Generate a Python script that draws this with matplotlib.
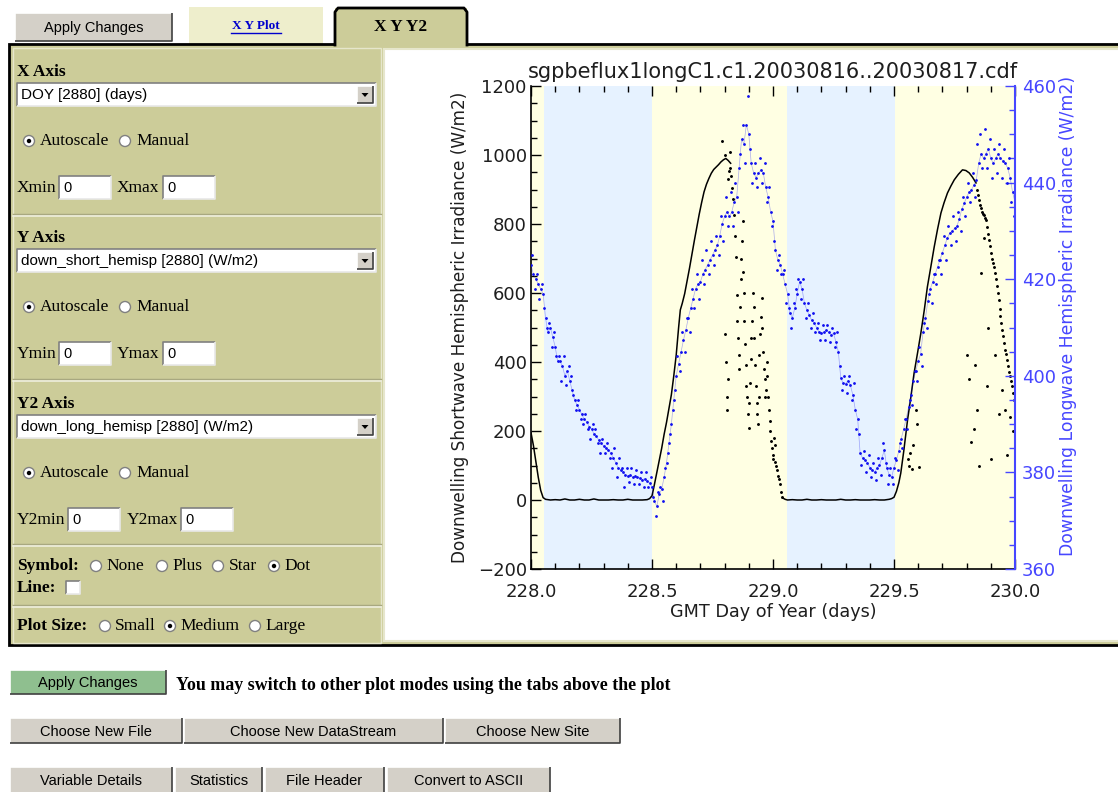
import matplotlib
matplotlib.use("Agg")
import matplotlib.pyplot as plt
from matplotlib.patches import Rectangle, Circle, Polygon
from matplotlib.ticker import MultipleLocator, FormatStrFormatter

# ---------------- data ----------------
title = "sgpbeflux1longC1.c1.20030816..20030817.cdf"
x_label = "GMT Day of Year (days)"
y_label = "Downwelling Shortwave Hemispheric Irradiance (W/m2)"
y2_label = "Downwelling Longwave Hemispheric Irradiance (W/m2)"

# night shading (DOY)
night_start = [228.055, 229.057]
night_end = [228.500, 229.504]

# shortwave, smooth clear-sky trace (W/m2)
sw_line1_doy = [
    228.000, 228.010, 228.020, 228.030, 228.040, 228.050, 228.060, 228.080, 228.100, 228.120,
    228.140, 228.160, 228.180, 228.200, 228.220, 228.240, 228.260, 228.280, 228.300, 228.320,
    228.340, 228.360, 228.380, 228.400, 228.420, 228.440, 228.460, 228.480, 228.490, 228.500,
    228.510, 228.520, 228.530, 228.540, 228.550, 228.560, 228.570, 228.580, 228.590, 228.600,
    228.610, 228.617, 228.625, 228.635, 228.645, 228.655, 228.665, 228.675, 228.685, 228.695,
    228.705, 228.715, 228.725, 228.735, 228.745, 228.755, 228.765, 228.775, 228.785, 228.795,
    228.805, 228.815, 228.825]
sw_line1_val = [
    195, 158, 112, 66, 28, 7, 2, 0, 1, 0,
    3, 0, 0, 2, 0, 0, 3, 0, 0, 0,
    1, 0, 0, 2, 0, 0, 0, 1, 4, 12,
    45, 80, 115, 150, 190, 225, 265, 305, 360, 420,
    500, 551, 570, 598, 635, 672, 712, 752, 790, 828,
    862, 893, 915, 932, 947, 958, 965, 972, 980, 986,
    990, 984, 976]

sw_line2_doy = [
    229.040, 229.050, 229.060, 229.080, 229.100, 229.120, 229.140, 229.160, 229.180, 229.200,
    229.220, 229.240, 229.260, 229.280, 229.300, 229.320, 229.340, 229.360, 229.380, 229.400,
    229.420, 229.440, 229.460, 229.480, 229.490, 229.500, 229.510, 229.520, 229.528, 229.540,
    229.556, 229.570, 229.583, 229.597, 229.611, 229.625, 229.638, 229.652, 229.666, 229.680,
    229.694, 229.707, 229.721, 229.735, 229.749, 229.766, 229.783, 229.797, 229.811, 229.825,
    229.839]
sw_line2_val = [
    6, 2, 0, 1, 0, 0, 2, 0, 0, 1,
    0, 0, 0, 2, 0, 0, 1, 0, 0, 0,
    1, 0, 0, 2, 4, 8, 25, 50, 78, 140,
    232, 300, 368, 425, 484, 550, 618, 675, 733, 785,
    832, 862, 890, 910, 928, 944, 957, 955, 948, 935,
    919]

# shortwave, scattered (cloudy) samples
sw_dots_doy = [
    228.790, 228.800, 228.803, 228.806, 228.808, 228.810, 228.812, 228.815, 228.818, 228.821,
    228.824, 228.828, 228.832, 228.836, 228.840, 228.844, 228.847, 228.850, 228.853, 228.856,
    228.858, 228.861, 228.863, 228.866, 228.869, 228.872, 228.874, 228.877, 228.880, 228.882,
    228.885, 228.888, 228.890, 228.893, 228.896, 228.899, 228.902, 228.905, 228.908, 228.911,
    228.914, 228.917, 228.920, 228.923, 228.926, 228.929, 228.932, 228.935, 228.938, 228.941,
    228.944, 228.947, 228.950, 228.953, 228.956, 228.959, 228.962, 228.965, 228.968, 228.971,
    228.974, 228.977, 228.980, 228.983, 228.986, 228.989, 228.992, 228.995, 228.998, 229.001,
    229.004, 229.007, 229.010, 229.014, 229.018, 229.022, 229.026, 229.030, 229.034, 229.038,
    229.845, 229.849, 229.853, 229.857, 229.860, 229.864, 229.868, 229.872, 229.876, 229.880,
    229.884, 229.888, 229.892, 229.896, 229.900, 229.904, 229.908, 229.912, 229.916, 229.920,
    229.924, 229.928, 229.932, 229.936, 229.940, 229.944, 229.948, 229.952, 229.956, 229.960,
    229.964, 229.968, 229.972, 229.976, 229.980, 229.984, 229.988, 229.992, 229.996, 230.000,
    229.556, 229.562, 229.568, 229.574, 229.580, 229.590, 229.596, 229.604, 229.800, 229.808,
    229.818, 229.830, 229.835, 229.844, 229.852, 229.860, 229.872, 229.884, 229.890, 229.902,
    229.918, 229.932, 229.946, 229.958, 229.968, 229.978, 229.993]
sw_dots_val = [
    1040, 1000, 480, 400, 300, 262, 350, 930, 955, 1010,
    962, 940, 905, 872, 825, 765, 705, 594, 520, 470,
    420, 380, 560, 640, 700, 752, 808, 660, 600, 520,
    452, 390, 330, 300, 250, 210, 280, 340, 410, 470,
    520, 600, 560, 470, 390, 330, 280, 250, 220, 300,
    420, 480, 530, 585, 500, 430, 380, 350, 300, 320,
    400, 360, 300, 262, 230, 200, 172, 150, 120, 130,
    180, 160, 110, 100, 88, 70, 62, 45, 24, 10,
    900, 885, 870, 855, 845, 835, 830, 825, 818, 812,
    790, 772, 755, 735, 716, 700, 688, 675, 658, 640,
    620, 600, 580, 555, 532, 512, 492, 475, 455, 436,
    422, 405, 388, 372, 358, 345, 330, 310, 290, 275,
    120, 100, 135, 90, 160, 260, 220, 95, 420, 350,
    168, 205, 390, 262, 100, 659, 760, 330, 500, 120,
    420, 250, 320, 260, 130, 240, 200]

# longwave, main trace (W/m2)
lw_main_doy = [
    228.00, 228.01, 228.02, 228.03, 228.04, 228.05, 228.06, 228.07, 228.08, 228.09,
    228.10, 228.11, 228.12, 228.13, 228.14, 228.15, 228.16, 228.17, 228.18, 228.19,
    228.20, 228.21, 228.22, 228.23, 228.24, 228.25, 228.26, 228.27, 228.28, 228.29,
    228.30, 228.31, 228.32, 228.33, 228.34, 228.35, 228.36, 228.37, 228.38, 228.39,
    228.40, 228.41, 228.42, 228.43, 228.44, 228.45, 228.46, 228.47, 228.48, 228.49,
    228.50, 228.51, 228.52, 228.53, 228.54, 228.55, 228.56, 228.57, 228.58, 228.59,
    228.60, 228.61, 228.62, 228.63, 228.64, 228.65, 228.66, 228.67, 228.68, 228.69,
    228.70, 228.71, 228.72, 228.73, 228.74, 228.75, 228.76, 228.77, 228.78, 228.79,
    228.80, 228.81, 228.82, 228.83, 228.84, 228.85, 228.86, 228.87, 228.88, 228.89,
    228.90, 228.91, 228.92, 228.93, 228.94, 228.95, 228.96, 228.97, 228.98, 228.99,
    229.00, 229.01, 229.02, 229.03, 229.04, 229.05, 229.06, 229.07, 229.08, 229.09,
    229.10, 229.11, 229.12, 229.13, 229.14, 229.15, 229.16, 229.17, 229.18, 229.19,
    229.20, 229.21, 229.22, 229.23, 229.24, 229.25, 229.26, 229.27, 229.28, 229.29,
    229.30, 229.31, 229.32, 229.33, 229.34, 229.35, 229.36, 229.37, 229.38, 229.39,
    229.40, 229.41, 229.42, 229.43, 229.44, 229.45, 229.46, 229.47, 229.48, 229.49,
    229.50, 229.51, 229.52, 229.53, 229.54, 229.55, 229.56, 229.57, 229.58, 229.59,
    229.60, 229.61, 229.62, 229.63, 229.64, 229.65, 229.66, 229.67, 229.68, 229.69,
    229.70, 229.71, 229.72, 229.73, 229.74, 229.75, 229.76, 229.77, 229.78, 229.79,
    229.80, 229.81, 229.82, 229.83, 229.84, 229.85, 229.86, 229.87, 229.88, 229.89,
    229.90, 229.91, 229.92, 229.93, 229.94, 229.95, 229.96, 229.97, 229.98, 229.99,
    230.00]
lw_main_val = [
    423, 421, 420, 419, 418, 417, 412, 409, 410, 408,
    406, 403, 403, 402, 400, 401, 399, 397, 395, 394,
    393, 392, 391, 390.5, 389.5, 389, 388, 387.5, 386.7, 386,
    385.5, 385, 384.6, 384, 383, 382, 381, 380.5, 380, 379.5,
    379.2, 379.5, 379, 379.2, 379, 378.8, 378.5, 378.7, 378.2, 377.8,
    377, 374, 373, 375.5, 376.5, 379, 382, 386, 390, 395,
    400, 402.5, 405, 407.4, 409.5, 412, 414, 416, 418, 419,
    419.5, 421, 422, 423, 424, 425, 426, 427, 429, 431.5,
    433, 434, 433, 434, 436, 437, 443, 449, 448, 452,
    450, 444, 442, 441, 442, 442.6, 442, 439, 437, 434,
    432, 426, 424, 423, 421, 419, 417, 413, 412, 414,
    417, 419.5, 418, 415, 413.6, 412.5, 411.5, 411, 410, 409,
    408.8, 409, 409.5, 409, 408.5, 408.8, 407, 405, 399.5, 398.5,
    398.4, 399, 398, 396, 393, 391, 384, 383, 382.6, 382,
    381, 380.5, 380, 381, 381.5, 383, 384.6, 381, 379.5, 379,
    381, 382.5, 384.5, 387, 389, 391, 393.5, 396, 399, 401,
    403, 404.5, 409, 412, 415.5, 418, 419.5, 421, 422.6, 424,
    425.5, 427, 428.5, 429.5, 430, 430.5, 431, 432.5, 434.5, 435.7,
    437, 438, 438.5, 439.5, 440.5, 444, 446, 445, 446, 447,
    445, 444, 445, 446, 445, 444.5, 444, 443, 441, 438,
    436]

# longwave, spread of the noisy band (W/m2)
lw_spread_doy = [
    228.005, 228.015, 228.025, 228.035, 228.045, 228.055, 228.065, 228.075, 228.085, 228.095,
    228.105, 228.115, 228.125, 228.135, 228.145, 228.155, 228.165, 228.175, 228.185, 228.195,
    228.205, 228.215, 228.225, 228.235, 228.245, 228.255, 228.265, 228.275, 228.285, 228.295,
    228.305, 228.315, 228.325, 228.335, 228.345, 228.355, 228.365, 228.375, 228.385, 228.395,
    228.405, 228.415, 228.425, 228.435, 228.445, 228.455, 228.465, 228.475, 228.485, 228.495,
    228.505, 228.515, 228.525, 228.535, 228.545, 228.555, 228.565, 228.575, 228.585, 228.595,
    228.605, 228.615, 228.625, 228.635, 228.645, 228.655, 228.665, 228.675, 228.685, 228.695,
    228.705, 228.715, 228.725, 228.735, 228.745, 228.755, 228.765, 228.775, 228.785, 228.795,
    228.805, 228.815, 228.825, 228.835, 228.845, 228.855, 228.865, 228.875, 228.885, 228.895,
    228.905, 228.915, 228.925, 228.935, 228.945, 228.955, 228.965, 228.975, 228.985, 228.995,
    229.005, 229.015, 229.025, 229.035, 229.045, 229.055, 229.065, 229.075, 229.085, 229.095,
    229.105, 229.115, 229.125, 229.135, 229.145, 229.155, 229.165, 229.175, 229.185, 229.195,
    229.205, 229.215, 229.225, 229.235, 229.245, 229.255, 229.265, 229.275, 229.285, 229.295,
    229.305, 229.315, 229.325, 229.335, 229.345, 229.355, 229.365, 229.375, 229.385, 229.395,
    229.405, 229.415, 229.425, 229.435, 229.445, 229.455, 229.465, 229.475, 229.485, 229.495,
    229.505, 229.515, 229.525, 229.535, 229.545, 229.555, 229.565, 229.575, 229.585, 229.595,
    229.605, 229.615, 229.625, 229.635, 229.645, 229.655, 229.665, 229.675, 229.685, 229.695,
    229.705, 229.715, 229.725, 229.735, 229.745, 229.755, 229.765, 229.775, 229.785, 229.795,
    229.805, 229.815, 229.825, 229.835, 229.845, 229.855, 229.865, 229.875, 229.885, 229.895,
    229.905, 229.915, 229.925, 229.935, 229.945, 229.955, 229.965, 229.975, 229.985, 229.995]
lw_spread_val = [
    425, 418, 421, 416, 419, 414, 410, 411, 406, 409,
    404, 404, 399, 404, 398, 402, 400, 396, 393, 395,
    391, 390, 392, 389, 387, 390, 389, 386, 384, 387,
    384, 386, 383, 381, 385, 379, 383, 381, 377, 381,
    378, 381, 377.5, 380.5, 377.5, 380, 377, 380, 377, 379,
    375, 371, 376, 377, 374, 381, 384, 388, 393, 397,
    404, 401, 409, 405, 412, 409, 418, 414, 421, 416,
    424, 419, 426, 421, 428, 423, 429, 425, 433, 428,
    437, 431, 438, 431, 440, 434, 446, 452, 444, 458,
    447, 440, 444, 439, 445, 440, 444, 436, 439, 431,
    428, 422, 425, 421, 422, 415, 414, 410, 415, 418,
    420, 416, 420, 412, 415, 410, 413, 409, 411, 407.5,
    410.5, 407.5, 410.5, 407, 410, 406, 409, 402, 397, 400,
    396.5, 400, 395, 398.5, 389, 388, 381.5, 384.5, 380, 383.5,
    379, 382, 378.5, 383, 379.5, 386, 382, 377.5, 381, 377.5,
    383, 380.5, 386, 385, 391, 389, 395, 394, 401, 399,
    406, 402, 411, 410, 417, 415, 421, 419, 424, 421,
    429, 424, 431, 427, 433, 428, 434, 430, 437, 433,
    440, 436, 442, 437, 448, 450, 443, 451, 443, 449,
    441, 447, 442, 448, 441, 447, 440, 445, 436, 433]

# ---------------- page look ----------------
W, H = 1118, 792
SERIF = "Liberation Serif"
SANS = "Liberation Sans"
OLIVE = "#CCCC99"
GRAY = "#D4D0C8"
GREEN = "#8FBF8F"
AXBLUE = "#4646FF"
DOTBLUE = "#1010F0"
INK = "#1E1E1E"

fig = plt.figure(figsize=(W / 100, H / 100), dpi=100)
ui = fig.add_axes([0, 0, 1, 1], zorder=0)
ui.axis("off")


def bevel(x0, y0, x1, y1, face, raised=True, lw=1.2):
    ui.add_patch(Rectangle((x0, y0), x1 - x0, y1 - y0, facecolor=face, edgecolor="none"))
    hi, lo = ("white", "#404040") if raised else ("#808080", "#E8E8E8")
    ui.plot([x0, x0, x1], [y1, y0, y0], color=hi, lw=lw, solid_capstyle="butt")
    ui.plot([x0, x1, x1], [y1, y1, y0], color=lo, lw=lw, solid_capstyle="butt")


def button(x0, y0, x1, y1, s, face=GRAY):
    bevel(x0, y0, x1, y1, face)
    ui.text((x0 + x1) / 2, (y0 + y1) / 2 + 1, s, ha="center", va="center",
            fontsize=10.5, family=SANS)


def label(x, y, s, bold=False, size=12.5):
    ui.text(x, y, s, ha="left", va="center", family=SERIF, fontsize=size,
            fontweight="bold" if bold else "normal")


def radio(cx, cy, on=False):
    ui.add_patch(Circle((cx, cy), 5.5, facecolor="white", edgecolor="#808080", lw=1))
    if on:
        ui.add_patch(Circle((cx, cy), 2.2, facecolor="black", edgecolor="none"))


def entry(x0, y0, x1, y1, s, size=10.5):
    bevel(x0, y0, x1, y1, "white", raised=False)
    ui.text(x0 + 4, (y0 + y1) / 2 + 1, s, ha="left", va="center", fontsize=size, family=SANS)


def dropdown(y0, s):
    entry(17, y0, 376, y0 + 23, s, size=11)
    bevel(357, y0 + 3, 373, y0 + 20, GRAY)
    ui.add_patch(Polygon([(361.5, y0 + 10), (368.5, y0 + 10), (365, y0 + 14)],
                         closed=True, facecolor="black", edgecolor="none"))


# top row: button and tabs
button(15, 13, 172, 41, "Apply Changes")
ui.add_patch(Rectangle((189, 7), 134, 37, facecolor="#EEEECC", edgecolor="none"))
ui.text(256, 26, "X Y Plot", ha="center", va="center", family=SERIF, fontsize=9.5,
        fontweight="bold", color="#0000CC")
ui.plot([231, 281], [33, 33], color="#0000CC", lw=1)

# main panel
ui.add_patch(Rectangle((9, 44), 1115, 601, facecolor=OLIVE, edgecolor="black", lw=2))
ui.add_patch(Rectangle((335, 8), 132, 38, facecolor=OLIVE, edgecolor="none"))
ui.plot([335, 335, 338, 464, 467, 467], [45, 12, 8, 8, 12, 45], color="black", lw=2)
ui.text(401, 27, "X Y Y2", ha="center", va="center", family=SERIF, fontsize=12.5,
        fontweight="bold")
ui.add_patch(Rectangle((13, 48), 368, 595, facecolor="none", edgecolor="#E6E6CC", lw=1))
ui.add_patch(Rectangle((384, 49), 740, 592, facecolor="white", edgecolor="#E6E6CC", lw=1.5))
for sy in [215, 380, 545, 606]:
    ui.plot([13, 381], [sy - 1, sy - 1], color="#A8A880", lw=1)
    ui.plot([13, 381], [sy + 1, sy + 1], color="#EEEEDD", lw=1.2)

# axis sections
sections = [(72, "X Axis", 83, "DOY [2880] (days)", 141, 188, "Xmin", "Xmax", 59, 111, 117, 163, 215),
            (238, "Y Axis", 249, "down_short_hemisp [2880] (W/m2)", 307, 354, "Ymin", "Ymax",
             59, 111, 117, 163, 215),
            (404, "Y2 Axis", 415, "down_long_hemisp [2880] (W/m2)", 473, 520, "Y2min", "Y2max",
             68, 120, 127, 181, 233)]
for ty, name, dy, dtxt, ry, ey, lo, hi, b0, b1, hx, c0, c1 in sections:
    label(17, ty, name, bold=True)
    dropdown(dy, dtxt)
    radio(29, ry, True)
    label(40, ry, "Autoscale")
    radio(125, ry)
    label(136, ry, "Manual")
    label(17, ey, lo)
    entry(b0, ey - 12, b1, ey + 11, "0")
    label(hx, ey, hi)
    entry(c0, ey - 12, c1, ey + 11, "0")

label(17, 566, "Symbol:", bold=True)
for cx, tx, s, on in [(96, 106, "None", False), (162, 172, "Plus", False),
                      (218, 229, "Star", False), (274, 284, "Dot", True)]:
    radio(cx, 566, on)
    label(tx, 566, s)
label(17, 588, "Line:", bold=True)
bevel(66, 581, 80, 594, "white", raised=False)
label(17, 626, "Plot Size:", bold=True)
for cx, tx, s, on in [(105, 115, "Small", False), (170, 180, "Medium", True),
                      (255, 265, "Large", False)]:
    radio(cx, 626, on)
    label(tx, 626, s)

# bottom buttons
button(10, 670, 166, 694, "Apply Changes", face=GREEN)
ui.text(176, 686, "You may switch to other plot modes using the tabs above the plot",
        ha="left", va="center", family=SERIF, fontsize=12.9, fontweight="bold")
for x0, x1, s in [(10, 182, "Choose New File"), (184, 443, "Choose New DataStream"),
                  (445, 620, "Choose New Site")]:
    button(x0, 718, x1, 743, s)
for x0, x1, s in [(10, 172, "Variable Details"), (175, 262, "Statistics"),
                  (265, 384, "File Header"), (387, 550, "Convert to ASCII")]:
    button(x0, 767, x1, 793, s)

ui.set_xlim(0, W)
ui.set_ylim(H, 0)

# ---------------- the chart ----------------
ax = fig.add_axes([531 / W, 1 - 569 / H, 484 / W, 483 / H], zorder=2)
ax.set_facecolor("#FFFFE3")
for a, b in zip(night_start, night_end):
    ax.axvspan(a, b, color="#E6F2FF", lw=0, zorder=0)

ax.plot(sw_line1_doy, sw_line1_val, color="black", lw=1.1, zorder=2)
ax.plot(sw_line2_doy, sw_line2_val, color="black", lw=1.1, zorder=2)
ax.plot(sw_dots_doy, sw_dots_val, ".", color="black", ms=2.2, zorder=2)

ax.set_xlim(228.0, 230.0)
ax.set_ylim(-200, 1200)
ax.xaxis.set_major_locator(MultipleLocator(0.5))
ax.xaxis.set_minor_locator(MultipleLocator(0.1))
ax.yaxis.set_major_locator(MultipleLocator(200))
ax.yaxis.set_minor_locator(MultipleLocator(50))
ax.xaxis.set_major_formatter(FormatStrFormatter("%.1f"))
ax.tick_params(which="both", direction="in", top=True, right=False, labelsize=13,
               width=1, labelcolor=INK)
ax.tick_params(which="major", length=7)
ax.tick_params(which="minor", length=4)
ax.tick_params(axis="x", pad=10)
ax.tick_params(axis="y", pad=3)
ax.spines["top"].set_visible(False)
ax.spines["right"].set_visible(False)
ax.spines["left"].set_linewidth(1.2)
ax.spines["bottom"].set_linewidth(1.2)
ax.set_title(title, fontsize=15, pad=6, color=INK)
ax.set_xlabel(x_label, fontsize=12.7, va="center", color=INK)
ax.xaxis.set_label_coords(0.5, -0.089)
ax.set_ylabel(y_label, fontsize=12.2, va="center", color=INK)
ax.yaxis.set_label_coords(-0.1467, 0.5)

ax2 = ax.twinx()
ax2.plot(lw_main_doy, lw_main_val, color=DOTBLUE, lw=0.5, alpha=0.35)
ax2.plot(lw_main_doy, lw_main_val, ".", color=DOTBLUE, ms=2.0)
ax2.plot(lw_spread_doy, lw_spread_val, ".", color=DOTBLUE, ms=2.0)
ax2.set_ylim(360, 460)
ax2.yaxis.set_major_locator(MultipleLocator(20))
ax2.yaxis.set_minor_locator(MultipleLocator(5))
ax2.tick_params(which="both", direction="in", colors=AXBLUE, labelsize=13, width=1, pad=5)
ax2.tick_params(which="major", length=7)
ax2.tick_params(which="minor", length=4)
for s in ["left", "top", "bottom"]:
    ax2.spines[s].set_visible(False)
ax2.spines["right"].set_color(AXBLUE)
ax2.spines["right"].set_linewidth(1.5)
ax2.set_ylabel(y2_label, fontsize=12.4, color=AXBLUE, va="center")
ax2.yaxis.set_label_coords(1.1095, 0.524)

fig.savefig("out.png", dpi=100)
